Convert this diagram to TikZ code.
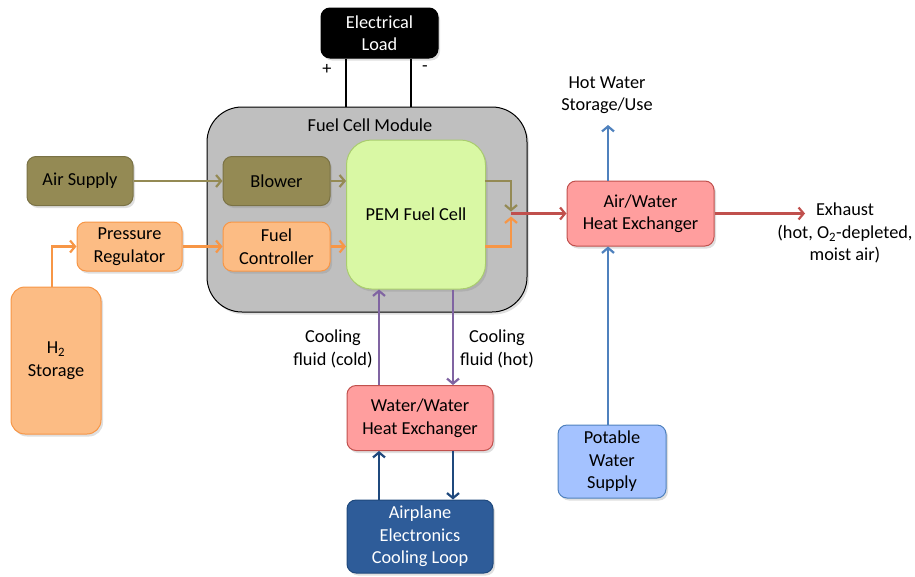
\documentclass[tikz,border=0pt]{standalone}
\usepackage{fontspec}
\setmainfont{Carlito}
\usetikzlibrary{arrows.meta,shadows}
\definecolor{olivef}{HTML}{948A54}
\definecolor{olived}{HTML}{7A7245}
\definecolor{olivea}{HTML}{948A54}
\definecolor{orangef}{HTML}{FCBC84}
\definecolor{oranged}{HTML}{F79646}
\definecolor{greenf}{HTML}{D9F8A4}
\definecolor{greend}{HTML}{A9CC6E}
\definecolor{grayf}{HTML}{BFBFBF}
\definecolor{pinkf}{HTML}{FF9E9E}
\definecolor{redd}{HTML}{C0504D}
\definecolor{lbluef}{HTML}{A4C2FF}
\definecolor{blued}{HTML}{4F81BD}
\definecolor{dbluef}{HTML}{2E5C99}
\definecolor{dblued}{HTML}{1F497D}
\definecolor{purplea}{HTML}{8064A2}
\tikzset{
  every node/.style={font=\fontsize{18.3}{22.5}\selectfont},
  blk/.style={rounded corners=9pt, draw, line width=1pt, align=center, inner sep=0pt,
     drop shadow={opacity=0.25, shadow xshift=2pt, shadow yshift=-2.5pt}},
  lbl/.style={align=center, inner sep=0pt},
  arr/.style={line width=2.2pt, -{Straight Barb[length=5pt,width=12pt]}},
  wire/.style={line width=2.4pt}
}
\begin{document}
\begin{tikzpicture}[x=1pt,y=-1pt]
\useasboundingbox (0,0) rectangle (915,576);
% module
\node[blk, rounded corners=35pt, fill=grayf, draw=black, minimum width=320pt, minimum height=205pt] (module) at (367,209.5) {};
\node[lbl] (mtitle) at (370,125) {Fuel Cell Module};
% load
\node[blk, fill=black, draw=black, text=white, minimum width=117pt, minimum height=50pt] (load) at (379.5,33) {Electrical\\Load};
\coordinate (w1) at (346,0);
\coordinate (w2) at (411,0);
\draw[wire] (load.south -| w1) -- (module.north -| w1);
\draw[wire] (load.south -| w2) -- (module.north -| w2);
\node[lbl] (plus) at (327,69) {+};
\node[lbl] (minus) at (425,69) {-};
% boxes
\node[blk, fill=olivef, draw=olived, minimum width=106pt, minimum height=49pt] (air) at (80,181) {Air Supply};
\node[blk, fill=olivef, draw=olived, minimum width=107pt, minimum height=49pt] (blower) at (276.5,181) {Blower};
\node[blk, rounded corners=25pt, fill=greenf, draw=greend, minimum width=139pt, minimum height=149pt] (pem) at (416,214.5) {PEM Fuel Cell};
\node[blk, fill=orangef, draw=oranged, minimum width=105pt, minimum height=49pt] (preg) at (129.5,246.5) {Pressure\\Regulator};
\node[blk, fill=orangef, draw=oranged, minimum width=107pt, minimum height=49pt] (fctrl) at (276.5,246.5) {Fuel\\Controller};
\node[blk, rounded corners=14pt, fill=orangef, draw=oranged, minimum width=90pt, minimum height=147pt] (h2) at (56,360.5) {H\textsubscript{2}\\Storage};
\node[blk, fill=pinkf, draw=redd, minimum width=147pt, minimum height=65pt] (awhx) at (640.5,213.5) {Air/Water\\Heat Exchanger};
\node[blk, fill=pinkf, draw=redd, minimum width=146pt, minimum height=65pt] (wwhx) at (420,418) {Water/Water\\Heat Exchanger};
\node[blk, fill=dbluef, draw=dblued, text=white, minimum width=146pt, minimum height=73pt] (apl) at (420,536.5) {Airplane\\Electronics\\Cooling Loop};
\node[blk, fill=lbluef, draw=blued, minimum width=108pt, minimum height=73pt] (pot) at (612,461.5) {Potable\\Water\\Supply};
% text labels
\node[lbl] (hot) at (607,95) {Hot Water\\Storage/Use};
\node[lbl, anchor=north] (exh) at (845,203) {Exhaust\\(hot, O\textsubscript{2}-depleted,\\moist air)};
\node[lbl] (cold) at (333,349) {Cooling\\fluid (cold)};
\node[lbl] (hotf) at (497,349) {Cooling\\fluid (hot)};
% arrows air/fuel
\draw[arr, draw=olivea] (air) -- (blower);
\draw[arr, draw=olivea] (blower.east) -- (blower.east -| pem.west);
\draw[arr, draw=oranged] (preg) -- (fctrl);
\draw[arr, draw=oranged] (fctrl.east) -- (fctrl.east -| pem.west);
\coordinate (hx) at (52,0);
\draw[arr, draw=oranged] (h2.north -| hx) |- (preg.west);
% pem outputs
\coordinate (j) at (511,213.5);
\coordinate (po) at (485,181);
\coordinate (pf) at (485,246.5);
\draw[arr, draw=olivea] (po) -| ([yshift=2pt]j);
\draw[arr, draw=oranged] (pf) -| ([yshift=-3pt]j);
\draw[arr, draw=redd] (j) -- (awhx.west);
\coordinate (exend) at (805,213.5);
\draw[arr, draw=redd] (awhx.east) -- (exend);
% blue water
\coordinate (bx) at (608,0);
\coordinate (htip) at (608,125);
\draw[arr, draw=blued] (pot.north -| bx) -- (awhx.south -| bx);
\draw[arr, draw=blued] (awhx.north -| bx) -- (htip);
% cooling loops
\coordinate (c1) at (379,0);
\coordinate (c2) at (453,0);
\draw[arr, draw=purplea] (wwhx.north -| c1) -- (pem.south -| c1);
\draw[arr, draw=purplea] (pem.south -| c2) -- (wwhx.north -| c2);
\draw[arr, draw=dblued] (apl.north -| c1) -- (wwhx.south -| c1);
\draw[arr, draw=dblued] (wwhx.south -| c2) -- (apl.north -| c2);
\end{tikzpicture}
\end{document}
